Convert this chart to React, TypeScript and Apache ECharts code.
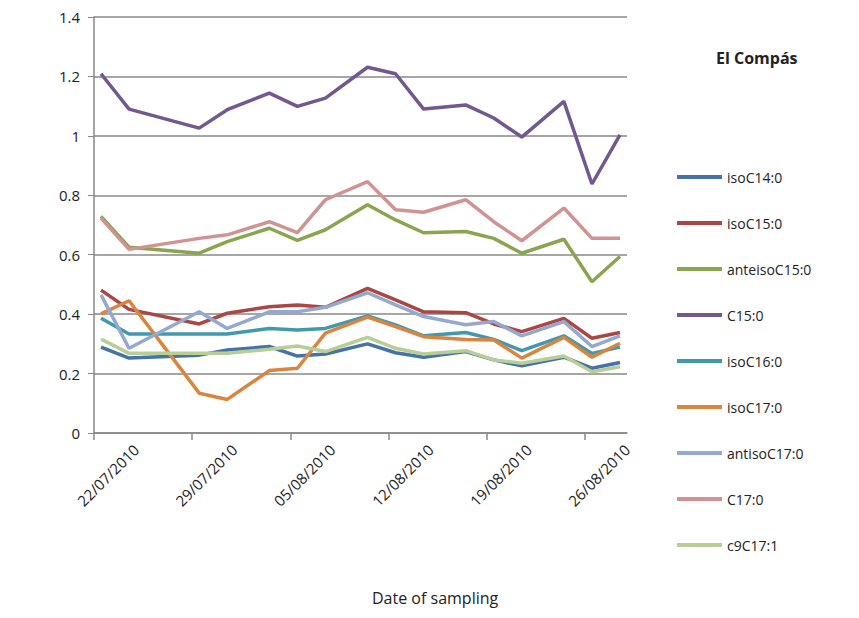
import React, { useEffect, useRef } from "react";
import * as echarts from "echarts";

const days = [0, 2, 7, 9, 12, 14, 16, 19, 21, 23, 26, 28, 30, 33, 35, 37];
const tickDays = [0, 7, 14, 21, 28, 35];
const tickLabels = ["22/07/2010", "29/07/2010", "05/08/2010", "12/08/2010", "19/08/2010", "26/08/2010"];
const names = ["isoC14:0", "isoC15:0", "anteisoC15:0", "C15:0", "isoC16:0", "isoC17:0", "antisoC17:0", "C17:0", "c9C17:1"];
const colors = ["#4572a7", "#aa4643", "#89a54e", "#71588f", "#4198af", "#db843d", "#93a9cf", "#d19392", "#b9cd96"];
const isoC14 = [0.289, 0.252, 0.262, 0.279, 0.291, 0.259, 0.266, 0.3, 0.27, 0.255, 0.274, 0.246, 0.226, 0.255, 0.218, 0.237];
const isoC15 = [0.481, 0.416, 0.367, 0.403, 0.425, 0.431, 0.423, 0.487, 0.448, 0.408, 0.405, 0.367, 0.341, 0.386, 0.319, 0.338];
const anteisoC15 = [0.729, 0.625, 0.605, 0.644, 0.689, 0.648, 0.684, 0.768, 0.717, 0.674, 0.678, 0.655, 0.605, 0.652, 0.509, 0.594];
const C15 = [1.209, 1.09, 1.026, 1.088, 1.144, 1.099, 1.127, 1.231, 1.209, 1.09, 1.104, 1.06, 0.996, 1.116, 0.838, 1.003];
const isoC16 = [0.386, 0.333, 0.333, 0.333, 0.352, 0.347, 0.352, 0.394, 0.364, 0.327, 0.338, 0.315, 0.277, 0.327, 0.268, 0.289];
const isoC17 = [0.401, 0.445, 0.134, 0.113, 0.21, 0.218, 0.336, 0.39, 0.358, 0.324, 0.315, 0.313, 0.252, 0.322, 0.255, 0.302];
const antisoC17 = [0.465, 0.285, 0.408, 0.352, 0.408, 0.408, 0.423, 0.472, 0.431, 0.392, 0.364, 0.375, 0.327, 0.375, 0.291, 0.327];
const C17 = [0.723, 0.618, 0.655, 0.667, 0.711, 0.674, 0.785, 0.846, 0.751, 0.743, 0.785, 0.711, 0.647, 0.757, 0.655, 0.655];
const c9C17 = [0.316, 0.268, 0.268, 0.268, 0.282, 0.293, 0.274, 0.322, 0.285, 0.266, 0.277, 0.246, 0.235, 0.259, 0.206, 0.223];
const allSeries = [isoC14, isoC15, anteisoC15, C15, isoC16, isoC17, antisoC17, C17, c9C17];

const LABEL_SHIFT = 3;

export default function App() {
  const ref = useRef<HTMLDivElement>(null);
  useEffect(() => {
    const chart = echarts.init(ref.current!, null, { renderer: "svg" });
    const font = "'Open Sans', 'Liberation Sans', sans-serif";
    chart.setOption({
      animation: false,
      textStyle: { fontFamily: font },
      grid: { left: 86, right: 224, top: 9, bottom: 177 },
      xAxis: {
        type: "value",
        min: 0,
        max: 38,
        splitLine: { show: false },
        axisLine: { lineStyle: { color: "#888", width: 1.5 } },
        axisTick: { show: true, customValues: tickDays, length: 7, lineStyle: { color: "#888", width: 1.5 } },
        axisLabel: {
          customValues: tickDays.map((d) => d + LABEL_SHIFT),
          rotate: 45,
          fontSize: 15,
          margin: 14,
          color: "#222",
          formatter: (v: number) => tickLabels[tickDays.indexOf(Math.round(v - LABEL_SHIFT))] ?? "",
        },
      },
      yAxis: {
        type: "value",
        min: 0,
        max: 1.4,
        interval: 0.2,
        axisLine: { show: true, lineStyle: { color: "#888", width: 1.5 } },
        axisTick: { show: true, length: 6, lineStyle: { color: "#888" } },
        splitLine: { lineStyle: { color: "#888", width: 1.5 } },
        axisLabel: { fontSize: 15, color: "#222", margin: 14, formatter: (v: number) => String(+v.toFixed(1)) },
      },
      legend: {
        orient: "vertical",
        left: 664,
        top: 157,
        itemWidth: 45,
        itemHeight: 4,
        itemGap: 32,
        icon: "rect",
        data: names,
        textStyle: { fontSize: 14, color: "#222", fontFamily: font },
      },
      graphic: [
        { type: "text", left: 708, top: 42, style: { text: "El Compás", font: `bold 16px ${font}`, fill: "#222" } },
        { type: "text", left: 364, top: 582, style: { text: "Date of sampling", font: `16px ${font}`, fill: "#222" } },
      ],
      series: allSeries.map((vals, i) => ({
        name: names[i],
        type: "line",
        data: vals.map((v, j) => [days[j] + 0.5, v]),
        showSymbol: false,
        color: colors[i],
        lineStyle: { width: 3.5, color: colors[i] },
      })),
    });
    return () => chart.dispose();
  }, []);
  return <div ref={ref} style={{ width: 843, height: 602 }} />;
}
